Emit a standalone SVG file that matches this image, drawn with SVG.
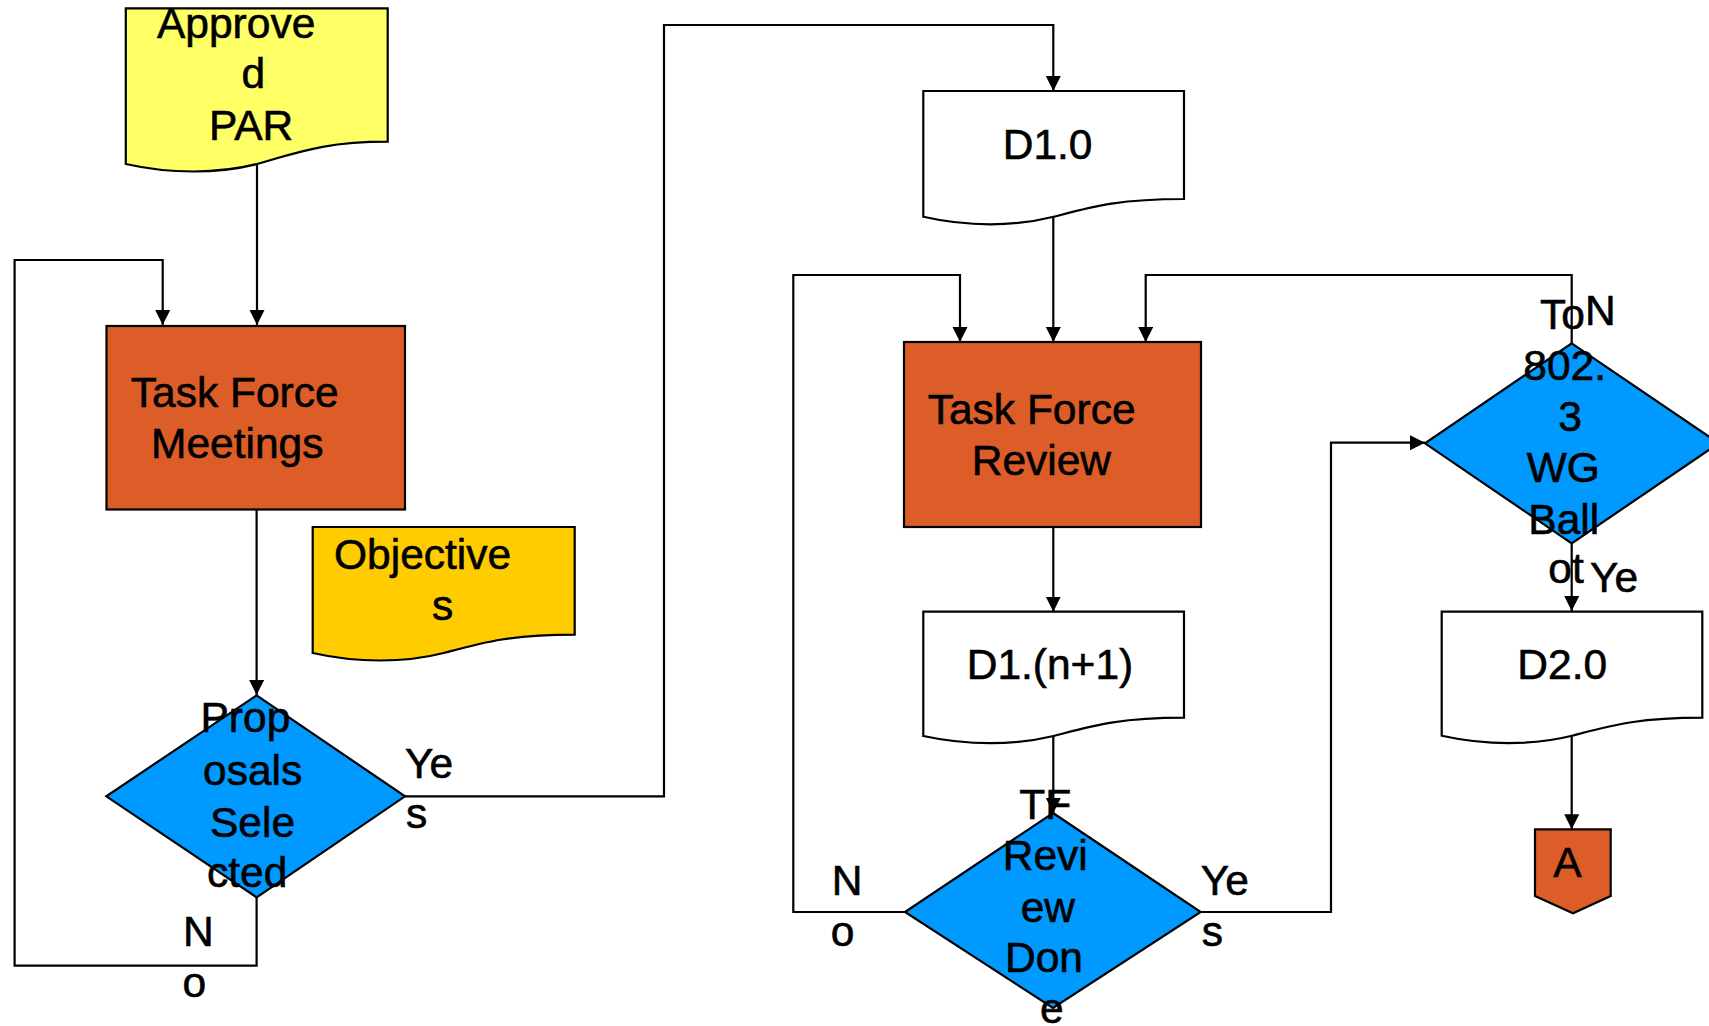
<svg xmlns="http://www.w3.org/2000/svg" width="1709" height="1026" viewBox="0 0 1709 1026">
<defs>
<marker id="arr" markerUnits="userSpaceOnUse" markerWidth="16" markerHeight="16" refX="15" refY="7.5" orient="auto">
<path d="M0,0 L15,7.5 L0,15 Z" fill="#000"/>
</marker>
<style>
.sh{stroke:#000;stroke-width:2.2}
.yel{fill:#FFFF66}
.gold{fill:#FFCC00}
.org{fill:#DC5D27}
.blu{fill:#0099FF}
.wht{fill:#FFFFFF}
.ln{fill:none;stroke:#000;stroke-width:2.2;marker-end:url(#arr)}
text{font-family:"Liberation Sans",Arial,sans-serif;font-size:42.5px;fill:#000;stroke:#000;stroke-width:0.6}
</style>
</defs>
<rect width="1709" height="1026" fill="#fff"/>
<g id="connectors">
<path class="ln" d="M257,163 V325"/>
<path class="ln" d="M256.6,510 V695"/>
<path class="ln" d="M256.6,897 V965.7 H14.6 V260 H162.7 V325"/>
<path class="ln" d="M405,796.3 H664 V25 H1053.3 V91"/>
<path class="ln" d="M1053.3,216.8 V342"/>
<path class="ln" d="M1053.3,527 V611.7"/>
<path class="ln" d="M1053.3,736 V813"/>
<path class="ln" d="M905,912 H793.3 V275 H960 V342"/>
<path class="ln" d="M1200.7,912 H1331 V442.7 H1425"/>
<path class="ln" d="M1571.7,343.3 V275 H1145.7 V342"/>
<path class="ln" d="M1571.7,543.3 V611"/>
<path class="ln" d="M1571.7,735.7 V829.3"/>
</g>
<g id="labels">
<text x="405" y="777.8">Ye</text>
<text x="406" y="828">s</text>
<text x="183" y="946">N</text>
<text x="182.6" y="996.6">o</text>
<text x="831.7" y="895">N</text>
<text x="830.7" y="945.7">o</text>
<text x="1200.7" y="895">Ye</text>
<text x="1201.7" y="945.7">s</text>
<text x="1590" y="592.3">Ye</text>
<text x="1585" y="325">N</text>
</g>
<g id="approved-par">
<path class="sh yel" d="M125.8,8.3 H387.7 V141.7 C322,141.7 296,153.3 257,164 C218,174 170,174 125.8,164 Z"/>
<text x="157" y="38.3">Approve</text>
<text x="241.5" y="88.3">d</text>
<text x="209" y="140">PAR</text>
</g>
<g id="tf-meetings">
<rect class="sh org" x="106.5" y="326" width="298.5" height="183.5"/>
<text x="130.8" y="406.7">Task Force</text>
<text x="151" y="458.3">Meetings</text>
</g>
<g id="objectives">
<path class="sh gold" d="M312.7,527 H574.7 V634.7 C509,634.7 483,642.5 443.7,653 C404.7,663 357,663 312.7,653 Z"/>
<text x="334" y="569">Objective</text>
<text x="432" y="619.5">s</text>
</g>
<g id="proposals-selected">
<path class="sh blu" d="M256.6,695.3 L405,796.3 L256.6,897.3 L106.3,796.3 Z"/>
<text x="200.5" y="732">Prop</text>
<text x="203" y="784.5">osals</text>
<text x="210" y="836.7">Sele</text>
<text x="207" y="887">cted</text>
</g>
<g id="d1-0">
<path class="sh wht" d="M923.3,91 H1184 V199 C1118,199 1092,206.8 1053.6,216.8 C1014.6,226.8 967,226.8 923.3,216.8 Z"/>
<text x="1002.7" y="159">D1.0</text>
</g>
<g id="tf-review">
<rect class="sh org" x="904" y="342" width="297" height="185"/>
<text x="927.7" y="424.3">Task Force</text>
<text x="971.7" y="475">Review</text>
</g>
<g id="d1-n1">
<path class="sh wht" d="M923.3,611.7 H1184 V717.7 C1118,717.7 1092,726 1053.6,736 C1014.6,745.5 967,745.5 923.3,736 Z"/>
<text x="966.7" y="679">D1.(n+1)</text>
</g>
<g id="tf-review-done">
<path class="sh blu" d="M1053,813 L1200.7,912 L1053,1008 L905,912 Z"/>
<text x="1019.3" y="819.3">TF</text>
<text x="1002.7" y="870">Revi</text>
<text x="1020.7" y="921.7">ew</text>
<text x="1005" y="972.3">Don</text>
<text x="1040" y="1023">e</text>
</g>
<g id="wg-ballot">
<path class="sh blu" d="M1571.7,343.3 L1718.7,443.3 L1571.7,543.3 L1425,443.3 Z"/>
<text x="1540" y="329.3">To</text>
<text x="1523.3" y="380">802.</text>
<text x="1558.3" y="430.7">3</text>
<text x="1526.7" y="481.7">WG</text>
<text x="1528.3" y="534">Ball</text>
<text x="1548.3" y="583.3">ot</text>
</g>
<g id="d2-0">
<path class="sh wht" d="M1441.7,611.7 H1702.3 V717.7 C1637,717.7 1611,725.7 1572,735.7 C1533,745.5 1486,745.5 1441.7,735.7 Z"/>
<text x="1517.3" y="679.3">D2.0</text>
</g>
<g id="connector-a">
<path class="sh org" d="M1535,829.3 H1610.7 V896 L1573,913.3 L1535,896 Z"/>
<text x="1553.3" y="876.7">A</text>
</g>
</svg>
